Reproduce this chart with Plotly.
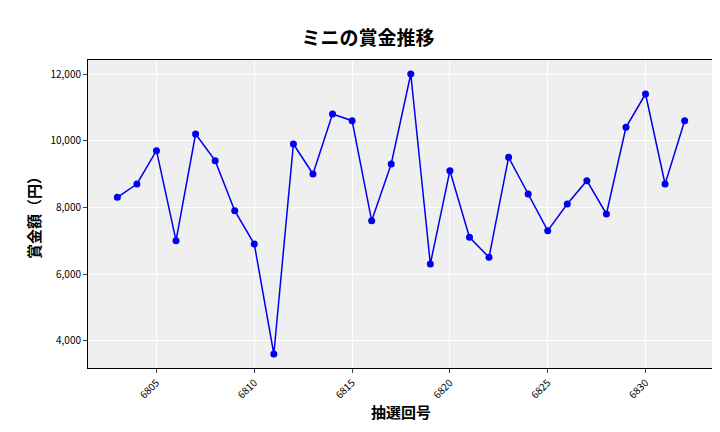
import plotly.graph_objects as go

draws = list(range(6803, 6833))
prizes = [8300, 8700, 9700, 7000, 10200, 9400, 7900, 6900, 3600, 9900,
          9000, 10800, 10600, 7600, 9300, 12000, 6300, 9100, 7100, 6500,
          9500, 8400, 7300, 8100, 8800, 7800, 10400, 11400, 8700, 10600]
xticks = [6805, 6810, 6815, 6820, 6825, 6830]
yticks = [4000, 6000, 8000, 10000, 12000]

font = "Noto Sans CJK JP"

fig = go.Figure(go.Scatter(
    x=draws, y=prizes, mode="lines+markers",
    line=dict(color="#0000ee", width=1.5),
    marker=dict(color="#0000ee", size=7),
))

fig.update_layout(
    width=720, height=432,
    margin=dict(l=80, r=14, t=52, b=72, autoexpand=False),
    paper_bgcolor="white", plot_bgcolor="#efefef",
    font=dict(family=font, color="black"),
    title=dict(text="<b>ミニの賞金推移</b>", x=0.5, xanchor="center", y=0.945,
               font=dict(size=19)),
    showlegend=False,
)
fig.update_xaxes(
    title=dict(text="<b>抽選回号</b>", font=dict(size=15), standoff=4),
    tickvals=xticks, tickangle=-45, tickfont=dict(size=10),
    range=[6801.5, 6833.5], showgrid=True, gridcolor="white",
    showline=True, linecolor="black", mirror=True,
    ticks="outside", ticklen=4, zeroline=False, automargin=False,
)
fig.update_yaxes(
    title=dict(text="<b>賞金額（円）</b>", font=dict(size=15), standoff=6),
    tickvals=yticks, tickformat=",", tickfont=dict(size=10),
    range=[3180, 12420], showgrid=True, gridcolor="white",
    showline=True, linecolor="black", mirror=True,
    ticks="outside", ticklen=4, zeroline=False, automargin=False,
)

fig.write_html("out.html")
